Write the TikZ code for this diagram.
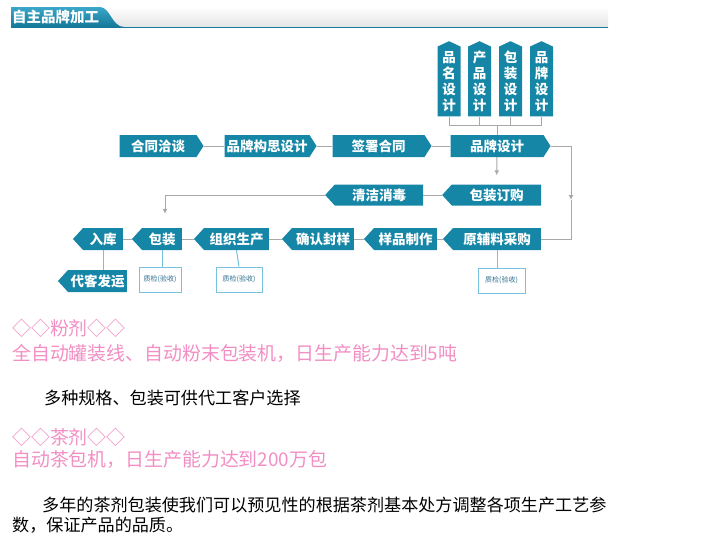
\documentclass[tikz,border=0pt]{standalone}
\usepackage{fontspec}
\setmainfont{Noto Sans CJK SC}
\usetikzlibrary{arrows.meta,positioning,shapes.symbols}
\definecolor{boxteal}{HTML}{1586A6}
\definecolor{tabdark}{HTML}{13789A}
\definecolor{tablight}{HTML}{3BA7C8}
\definecolor{linegray}{HTML}{A8A8A8}
\definecolor{qcblue}{HTML}{74C2DD}
\definecolor{qctext}{HTML}{2F6F8F}
\definecolor{pinktext}{HTML}{F28EC4}
\definecolor{bandgray}{HTML}{E4E4E4}

\begin{document}
\begin{tikzpicture}[
  x=1pt, y=-1pt,
  stepr/.style={signal, signal to=east, signal pointer angle=115, fill=boxteal, text=white, font=\fontsize{13.5}{15}\selectfont\bfseries, inner sep=0pt, minimum height=22pt},
  stepl/.style={signal, signal to=west, signal pointer angle=95, fill=boxteal, text=white, font=\fontsize{13.5}{15}\selectfont\bfseries, inner sep=0pt, minimum height=22pt},
  vbox/.style={signal, signal to=north, signal pointer angle=130, fill=boxteal, text=white, font=\fontsize{13.5}{16}\selectfont\bfseries, align=center, inner sep=0pt, minimum width=23pt, minimum height=73pt},
  qc/.style={rectangle, draw=qcblue, fill=white, line width=0.8pt, text=qctext, font=\fontsize{7}{8}\selectfont, inner sep=0pt, minimum height=25pt},
  link/.style={draw=linegray, line width=1pt},
  arrow/.style={-{Latex[length=5pt,width=5pt]}, draw=linegray, line width=1pt},
  qcline/.style={draw=qcblue, line width=1pt},
  pink/.style={anchor=west, inner sep=0pt, text=pinktext, font=\fontsize{18.9}{22}\selectfont},
  plain/.style={anchor=west, inner sep=0pt, text=black, font=\fontsize{17.1}{20}\selectfont, align=left}
]
\useasboundingbox (0,0) rectangle (718,547);

% header
\shade[top color=white, bottom color=bandgray] (11,7) rectangle (608,27);
\shade[top color=tablight, bottom color=tabdark] (11,7) -- (100,7) .. controls (110,7) and (112,27) .. (124,27) -- (11,27) -- cycle;
\draw[tabdark, line width=1.5pt] (11,27.5) -- (608,27.5);
\node[anchor=west, inner sep=0pt, text=white, font=\fontsize{14.5}{16}\selectfont\bfseries] (title) at (12,17) {自主品牌加工};

% design options
\node[vbox] (d1) at (449,81.5) {品\\名\\设\\计};
\node[vbox] (d2) at (479.5,81.5) {产\\品\\设\\计};
\node[vbox] (d3) at (510.5,81.5) {包\\装\\设\\计};
\node[vbox] (d4) at (541.5,81.5) {品\\牌\\设\\计};

% row 1
\node[stepr, minimum width=84pt] (hetong) at (158,146) {合同洽谈};
\node[stepr, minimum width=92pt] (gousi) at (267,146) {品牌构思设计};
\node[stepr, minimum width=99pt] (qianshu) at (378.5,146) {签署合同};
\node[stepr, minimum width=100pt] (pinpai) at (497,146) {品牌设计};

% row 2
\node[stepl, minimum width=99pt, minimum height=21pt] (dinggou) at (496.5,195) {包装订购};
\node[stepl, minimum width=98pt, minimum height=21pt] (qingjie) at (379,195) {清洁消毒};

% row 3
\node[stepl, minimum width=98pt] (caigou) at (497,239) {原辅料采购};
\node[stepl, minimum width=73pt] (yangpin) at (405.5,239) {样品制作};
\node[stepl, minimum width=72pt] (fengyang) at (323,239) {确认封样};
\node[stepl, minimum width=75pt] (shengchan) at (236.5,239) {组织生产};
\node[stepl, minimum width=50pt] (baozhuang) at (162,239) {包装};
\node[stepl, minimum width=50pt] (ruku) at (103,239) {入库};

% row 4
\node[stepl, minimum width=69pt] (fayun) at (97.5,281) {代客发运};
\node[qc, minimum width=42pt] (qc1) at (160,279.5) {质检(验收)};
\node[qc, minimum width=46pt] (qc2) at (239,279.5) {质检(验收)};
\node[qc, minimum width=47pt] (qc3) at (501.5,280.5) {质检(验收)};

\coordinate (join) at (497,125);
\coordinate (turn) at (571,200);

\draw[link] (d1.south) |- (join);
\draw[link] (d4.south) |- (join);
\draw[link] (d2.south) -- (d2.south |- join);
\draw[link] (d3.south) -- (d3.south |- join);
\draw[link] (join) -- (pinpai.north);

\draw[link] (hetong.east) -- (gousi.west);
\draw[link] (gousi.east) -- (qianshu.west);
\draw[link] (qianshu.east) -- (pinpai.west);
\draw[arrow, shorten >=9pt] (pinpai.south) -- (dinggou.north);
\draw[arrow] (pinpai.east) -| (turn);
\draw[link] (turn) |- (caigou.east);

\draw[link] (dinggou.west) -- (qingjie.east);
\draw[arrow, shorten >=14pt] (qingjie.west) -| ([xshift=3pt]baozhuang.north);

\draw[link] (caigou.west) -- (yangpin.east);
\draw[link] (yangpin.west) -- (fengyang.east);
\draw[link] (fengyang.west) -- (shengchan.east);
\draw[link] (shengchan.west) -- (baozhuang.east);
\draw[link] (baozhuang.west) -- (ruku.east);

\draw[qcline] (ruku.south) -- (ruku.south |- fayun.north);
\draw[qcline] (baozhuang.south) -- (baozhuang.south |- qc1.north);
\draw[qcline] (shengchan.south) -- (qc2.north);
\draw[qcline] (caigou.south) -- (caigou.south |- qc3.north);

% text
\node[pink] (fenji) at (12,328) {◇◇粉剂◇◇};
\node[pink] (fenjitxt) at (12,353) {全自动罐装线、自动粉末包装机，日生产能力达到5吨};
\node[plain] (guige) at (44,398) {多种规格、包装可供代工客户选择};
\node[pink] (chaji) at (12,437) {◇◇茶剂◇◇};
\node[pink] (chajitxt) at (12,460) {自动茶包机，日生产能力达到200万包};
\node[plain] (pinzhi) at (12,515) {\hspace*{30pt}多年的茶剂包装使我们可以预见性的根据茶剂基本处方调整各项生产工艺参\\数，保证产品的品质。};

\end{tikzpicture}
\end{document}
